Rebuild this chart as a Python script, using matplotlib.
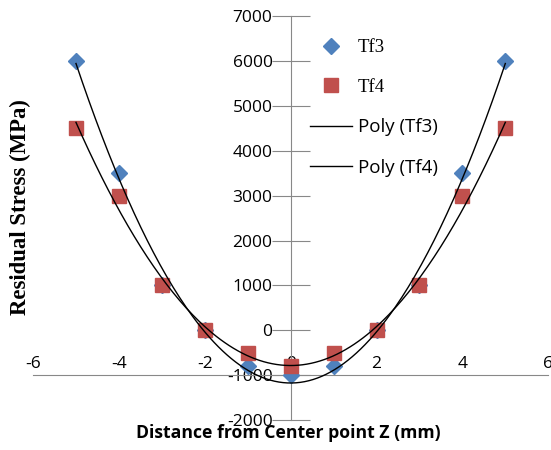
import numpy as np
import matplotlib.pyplot as plt

plt.rcParams['axes.unicode_minus'] = False

# data
z = [-5, -4, -3, -2, -1, 0, 1, 2, 3, 4, 5]
tf3 = [6000, 3500, 1000, 0, -800, -1000, -800, 0, 1000, 3500, 6000]
tf4 = [4500, 3000, 1000, 0, -500, -800, -500, 0, 1000, 3000, 4500]
xticks = [-6, -4, -2, 0, 2, 4, 6]
yticks = [-2000, -1000, 0, 1000, 2000, 3000, 4000, 5000, 6000, 7000]

blue = '#4F81BD'
red = '#C0504D'

fig = plt.figure(figsize=(5.51, 4.5), dpi=100)
ax = fig.add_axes([0.06, 0.0667, 0.935, 0.8973])

ax.plot(z, tf3, 'D', color=blue, markersize=8, label='Tf3', zorder=3)
ax.plot(z, tf4, 's', color=red, markersize=10.5, label='Tf4', zorder=3)

# 2nd order polynomial trendlines
xx = np.linspace(-5, 5, 200)
p3 = np.polyfit(z, tf3, 2)
p4 = np.polyfit(z, tf4, 2)
ax.plot(xx, np.polyval(p3, xx), color='black', lw=1, label='Poly (Tf3)', zorder=4)
ax.plot(xx, np.polyval(p4, xx), color='black', lw=1, label='Poly (Tf4)', zorder=4)

ax.set_xlim(-6, 6)
ax.set_ylim(-2000, 7000)
ax.set_xticks(xticks)
ax.set_yticks(yticks)

for s in ['top', 'right']:
    ax.spines[s].set_visible(False)
ax.spines['left'].set_position(('data', 0))
ax.spines['bottom'].set_position(('data', -1000))
ax.spines['left'].set_color('#888888')
ax.spines['bottom'].set_color('#888888')

ax.tick_params(axis='y', direction='inout', length=28, color='#888888',
               labelsize=12.5, pad=-1)
ax.tick_params(axis='x', length=0, labelsize=12.5, pad=-14)
for lab in ax.get_xticklabels() + ax.get_yticklabels():
    lab.set_fontfamily('Open Sans')

ax.set_xlabel('Distance from Center point Z (mm)', fontsize=12.7, fontweight='bold',
              family='Open Sans')
ax.xaxis.set_label_coords(0.495, -0.01)
ax.set_ylabel('Residual Stress (MPa)', fontsize=16.4, fontweight='bold',
              family='Liberation Serif')
ax.yaxis.set_label_coords(-0.003, 0.527)

leg = ax.legend(loc='upper left', bbox_to_anchor=(0.505, 0.985), frameon=False,
                fontsize=13.5, labelspacing=1.2, handlelength=2.25, handletextpad=0.3)
texts = leg.get_texts()
texts[0].set_family('Liberation Serif')
texts[1].set_family('Liberation Serif')
texts[2].set_family('Open Sans')
texts[3].set_family('Open Sans')

plt.savefig('out.png', dpi=100)
